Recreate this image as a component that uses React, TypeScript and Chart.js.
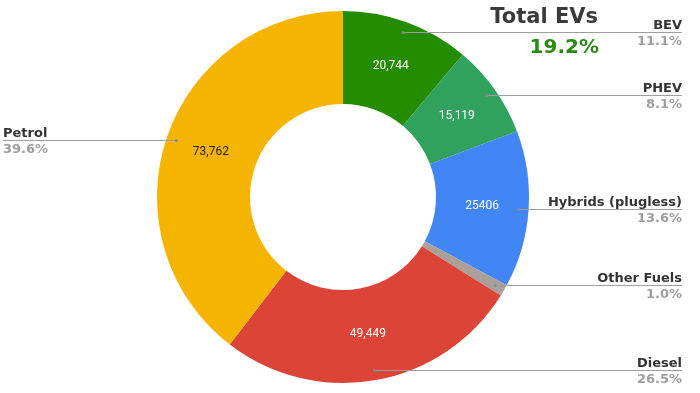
import React, { useEffect, useRef } from "react";
import { Chart, registerables } from "chart.js";

Chart.register(...registerables);

const categories = ["BEV", "PHEV", "Hybrids (plugless)", "Other Fuels", "Diesel", "Petrol"];
const registrations = [20744, 15119, 25406, 1870, 49449, 73762];
const valueLabels = ["20,744", "15,119", "25406", "", "49,449", "73,762"];
const sliceColors = ["#248c00", "#30a25e", "#4285f4", "#ab9f99", "#db4437", "#f4b400"];
const valueLabelColors = ["#ffffff", "#ffffff", "#ffffff", "#ffffff", "#ffffff", "#1f1f1f"];
const evCategories = ["BEV", "PHEV"];
const titleText = "Total EVs";

const labelPlugin = {
  id: "sideLabels",
  afterDraw(chart: any) {
    const ctx = chart.ctx;
    const meta = chart.getDatasetMeta(0);
    const total = registrations.reduce((a, b) => a + b, 0);
    const rightX = chart.width - 18;
    const leftX = 3;
    ctx.save();
    meta.data.forEach((arc: any, i: number) => {
      const p = arc.getProps(["x", "y", "startAngle", "endAngle", "innerRadius", "outerRadius"], true);
      const mid = (p.startAngle + p.endAngle) / 2;
      const cos = Math.cos(mid);
      const sin = Math.sin(mid);
      // value label
      if (valueLabels[i]) {
        const rMid = (p.innerRadius + p.outerRadius) / 2;
        ctx.font = "12px Roboto";
        ctx.fillStyle = valueLabelColors[i];
        ctx.textAlign = "center";
        ctx.textBaseline = "middle";
        ctx.fillText(valueLabels[i], p.x + cos * rMid, p.y + sin * rMid);
      }
      // leader line
      const rDot = p.outerRadius - 10;
      const dx = p.x + cos * rDot;
      const dy = Math.round(p.y + sin * rDot) + 0.5;
      const right = cos >= 0;
      ctx.strokeStyle = "#9e9e9e";
      ctx.lineWidth = 1;
      ctx.beginPath();
      ctx.moveTo(dx, dy);
      ctx.lineTo(right ? rightX : leftX, dy);
      ctx.stroke();
      ctx.fillStyle = "#8a8a8a";
      ctx.beginPath();
      ctx.arc(dx, dy, 1.5, 0, Math.PI * 2);
      ctx.fill();
      // text
      ctx.textAlign = right ? "right" : "left";
      const tx = right ? rightX : leftX;
      ctx.font = "bold 13px 'DejaVu Sans'";
      ctx.fillStyle = "#333333";
      ctx.textBaseline = "alphabetic";
      ctx.fillText(categories[i], tx, dy - 4);
      ctx.fillStyle = "#9e9e9e";
      ctx.textBaseline = "top";
      ctx.fillText(((registrations[i] / total) * 100).toFixed(1) + "%", tx, dy + 3);
    });
    // title
    const evTotal = categories.reduce((s, c, i) => (evCategories.includes(c) ? s + registrations[i] : s), 0);
    ctx.textAlign = "right";
    ctx.textBaseline = "alphabetic";
    ctx.font = "bold 21px 'DejaVu Sans'";
    ctx.fillStyle = "#3a3a3a";
    ctx.fillText(titleText, 598, 23);
    ctx.font = "bold 20px 'DejaVu Sans'";
    ctx.fillStyle = "#2b8a14";
    ctx.fillText(((evTotal / total) * 100).toFixed(1) + "%", 599, 53);
    ctx.restore();
  },
};

export default function App() {
  const ref = useRef<HTMLCanvasElement>(null);
  useEffect(() => {
    if (!ref.current) return;
    const chart = new Chart(ref.current, {
      type: "doughnut",
      data: {
        labels: categories,
        datasets: [
          {
            data: registrations,
            backgroundColor: sliceColors,
            borderWidth: 0,
          },
        ],
      },
      options: {
        animation: false,
        responsive: true,
        maintainAspectRatio: false,
        cutout: "50%",
        layout: { padding: { left: 157, right: 171, top: 11, bottom: 10 } },
        plugins: { legend: { display: false }, tooltip: { enabled: false } },
      },
      plugins: [labelPlugin],
    });
    return () => chart.destroy();
  }, []);
  return (
    <div style={{ position: "fixed", left: 0, top: 0, width: 700, height: 393, background: "#fff" }}>
      <canvas ref={ref} />
    </div>
  );
}
